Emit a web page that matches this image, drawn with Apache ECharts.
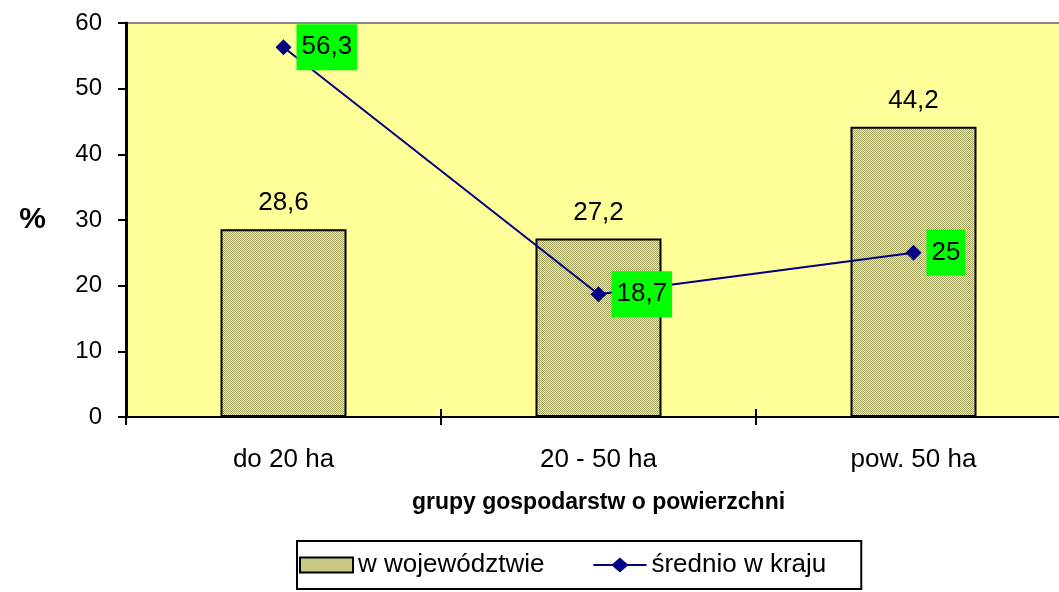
<!DOCTYPE html>
<html>
<head>
<meta charset="utf-8">
<script src="https://cdn.jsdelivr.net/npm/echarts@6/dist/echarts.min.js"></script>
<style>
  html, body { margin: 0; padding: 0; background: #fff; overflow: hidden; }
  /* plot area runs past the right edge of the window, as in the original */
  #chart { width: 1071px; height: 592px; }
</style>
</head>
<body>
<div id="chart"></div>
<script>
const categories = ['do 20 ha', '20 - 50 ha', 'pow. 50 ha'];
const regionValues = [28.6, 27.2, 44.2];
const countryValues = [56.3, 18.7, 25];
const yTicks = { min: 0, max: 60, interval: 10 };

const FONT = 'Liberation Sans, Arial, sans-serif';

// checkered fill like the original bars
const pat = document.createElement('canvas');
pat.width = 2; pat.height = 2;
const pc = pat.getContext('2d');
pc.fillStyle = '#eeeeac'; pc.fillRect(0, 0, 2, 2);
pc.fillStyle = '#a4a45e'; pc.fillRect(0, 0, 1, 1); pc.fillRect(1, 1, 1, 1);

const fmt = v => String(v).replace('.', ',');

// legend icon: line with a diamond in the middle
const lineIcon = 'path://M0,6.5L19,6.5L26.5,0L34,6.5L53,6.5L53,8.5L34,8.5L26.5,15L19,8.5L0,8.5Z';

const chart = echarts.init(document.getElementById('chart'));
chart.setOption({
  animation: false,
  textStyle: { fontFamily: FONT },
  grid: {
    left: 126, top: 23, right: 0, height: 394,
    show: true, backgroundColor: '#ffff99', borderColor: '#888', borderWidth: 2
  },
  xAxis: [{
    type: 'category', data: categories, boundaryGap: true,
    name: 'grupy gospodarstw o powierzchni', nameLocation: 'middle', nameGap: 74,
    nameTextStyle: { fontFamily: FONT, fontSize: 23, fontWeight: 'bold', color: '#000' },
    axisLine: { lineStyle: { color: '#000', width: 2 } },
    axisTick: { show: true, length: 8, lineStyle: { color: '#000', width: 2 } },
    axisLabel: { fontFamily: FONT, fontSize: 26, color: '#000', margin: 30 }
  }, {
    type: 'category', data: categories, position: 'bottom',
    axisLine: { show: false },
    axisTick: { show: true, inside: true, length: 8, lineStyle: { color: '#000', width: 2 } },
    axisLabel: { show: false }
  }],
  yAxis: [{
    type: 'value', ...yTicks,
    name: '%', nameLocation: 'middle', nameGap: 80, nameRotate: 0,
    nameTextStyle: { fontFamily: FONT, fontSize: 30, fontWeight: 'bold', color: '#000' },
    axisLine: { show: true, lineStyle: { color: '#000', width: 3 } },
    axisTick: { show: true, length: 8, lineStyle: { color: '#000', width: 2 } },
    axisLabel: { fontFamily: FONT, fontSize: 24, color: '#000', margin: 24 },
    splitLine: { show: false }
  }],
  legend: {
    left: 297, top: 541,
    padding: [11, 35, 11, 2],
    itemGap: 49, itemWidth: 53, itemHeight: 15,
    borderColor: '#000', borderWidth: 2, backgroundColor: '#fff',
    textStyle: { fontFamily: FONT, fontSize: 26, color: '#000' },
    data: [
      { name: 'w województwie', icon: 'rect' },
      { name: 'średnio w kraju', icon: lineIcon }
    ]
  },
  series: [{
    name: 'w województwie', type: 'bar', data: regionValues, barWidth: '40%',
    itemStyle: { color: { image: pat, repeat: 'repeat' }, borderColor: '#000', borderWidth: 2 },
    label: {
      show: true, position: 'top', distance: 13, formatter: p => fmt(p.value),
      fontFamily: FONT, fontSize: 26, color: '#000'
    }
  }, {
    name: 'średnio w kraju', type: 'line', data: countryValues,
    symbol: 'diamond', symbolSize: 16,
    lineStyle: { color: '#000080', width: 2 },
    itemStyle: { color: '#000080' },
    label: {
      show: true, position: 'right', distance: 5, formatter: p => fmt(p.value),
      fontFamily: FONT, fontSize: 26, color: '#000',
      backgroundColor: '#00ff00', padding: [10, 5, 10, 5]
    }
  }]
});
</script>
</body>
</html>
